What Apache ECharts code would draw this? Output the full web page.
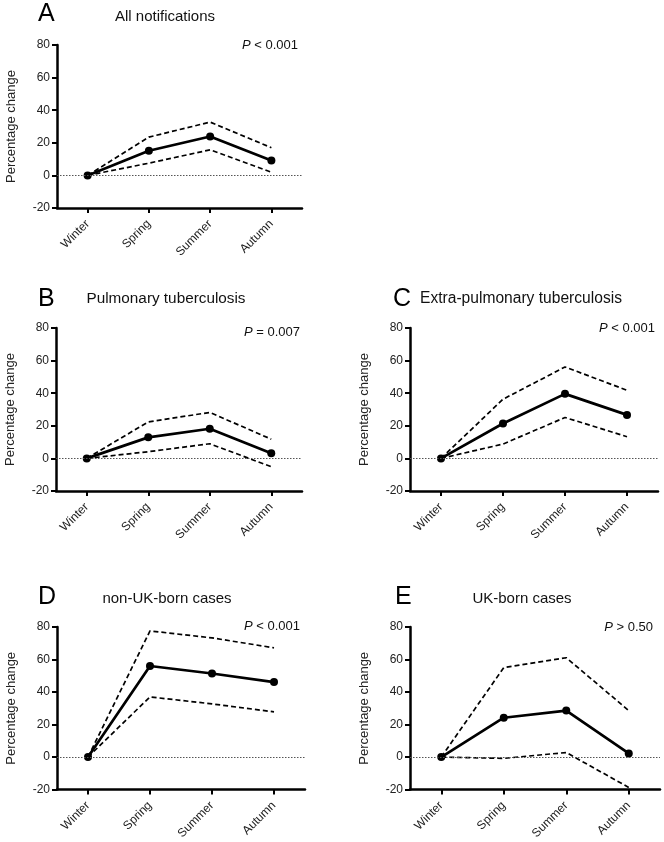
<!DOCTYPE html>
<html>
<head>
<meta charset="utf-8">
<script src="https://cdn.jsdelivr.net/npm/echarts@6/dist/echarts.min.js"></script>
<style>
html,body{margin:0;padding:0;background:#fff;}
#chart{width:664px;height:842px;}
</style>
</head>
<body>
<div id="chart"></div>
<script>
const categories = ['Winter', 'Spring', 'Summer', 'Autumn'];
const yMin = -20, yMax = 80, yStep = 20;

const allMean  = [0, 15.1, 23.9, 9.2];
const allUpper = [0, 23.5, 32.7, 17.0];
const allLower = [0, 7.5, 15.7, 2.0];

const pulMean  = [0, 12.9, 18.2, 3.1];
const pulUpper = [0, 22.4, 28.2, 11.8];
const pulLower = [0, 4.1, 9.0, -5.1];

const extraMean  = [0, 21.4, 39.6, 26.7];
const extraUpper = [0, 36.3, 56.1, 41.8];
const extraLower = [0, 8.8, 25.1, 13.3];

const nonUkMean  = [0, 56.0, 51.4, 46.1];
const nonUkUpper = [0, 77.6, 73.3, 67.2];
const nonUkLower = [0, 37.0, 32.7, 27.8];

const ukMean  = [0, 24.2, 28.6, 2.2];
const ukUpper = [0, 55.0, 61.1, 28.6];
const ukLower = [0, -0.8, 2.8, -18.7];

const panelLetters = ['A', 'B', 'C', 'D', 'E'];
const panelTitles = ['All notifications', 'Pulmonary tuberculosis', 'Extra-pulmonary tuberculosis', 'non-UK-born cases', 'UK-born cases'];
const pValues = ['< 0.001', '= 0.007', '< 0.001', '< 0.001', '> 0.50'];
const yAxisName = 'Percentage change';

const panels = [
  {mean: allMean, upper: allUpper, lower: allLower},
  {mean: pulMean, upper: pulUpper, lower: pulLower},
  {mean: extraMean, upper: extraUpper, lower: extraLower},
  {mean: nonUkMean, upper: nonUkUpper, lower: nonUkLower},
  {mean: ukMean, upper: ukUpper, lower: ukLower}
];

// layout (pixels)
const grids = [
  {left: 57, top: 45, width: 245, height: 163},
  {left: 56, top: 328, width: 246, height: 163},
  {left: 410, top: 328, width: 248, height: 163},
  {left: 57, top: 627, width: 248, height: 163},
  {left: 410, top: 627, width: 250, height: 163}
];
const letterPos = [[38, 14], [38, 299], [393, 299], [38, 597], [395, 597]];
const titlePos = [[165, 17, 'center'], [166, 299, 'center'], [420, 299, 'left'], [167, 599, 'center'], [522, 599, 'center']];
const titleSize = [15, 15.3, 15.6, 15, 15];
const pPos = [[298, 45], [300, 332], [655, 328], [300, 626], [653, 627]];

const FONT = '"Liberation Sans", Arial, Helvetica, sans-serif';

const chart = echarts.init(document.getElementById('chart'), null, {renderer: 'canvas'});

const xAxes = [], yAxes = [], series = [], graphics = [];
panels.forEach((p, i) => {
  xAxes.push({
    type: 'category', gridIndex: i, data: categories, boundaryGap: true,
    axisLine: {show: true, onZero: false, lineStyle: {color: '#000', width: 2.5}},
    axisTick: {show: true, alignWithLabel: true, length: 5, lineStyle: {color: '#000', width: 2}},
    axisLabel: {rotate: 45, margin: 14, fontSize: 12, color: '#222', fontFamily: FONT, interval: 0},
    splitLine: {show: false}
  });
  yAxes.push({
    type: 'value', gridIndex: i, min: yMin, max: yMax, interval: yStep,
    name: yAxisName, nameLocation: 'middle', nameGap: 39, nameRotate: 90,
    nameTextStyle: {fontSize: 13, color: '#222', fontFamily: FONT},
    axisLine: {show: true, onZero: false, lineStyle: {color: '#000', width: 2.5}},
    axisTick: {show: true, length: 5, lineStyle: {color: '#000', width: 2}},
    axisLabel: {margin: 7, fontSize: 12, color: '#222', fontFamily: FONT},
    splitLine: {show: false}
  });
  series.push({
    type: 'line', xAxisIndex: i, yAxisIndex: i, data: p.upper,
    showSymbol: false, symbol: 'none', lineStyle: {color: '#000', width: 1.7, type: [5, 3]},
    z: 2, silent: true, animation: false
  });
  series.push({
    type: 'line', xAxisIndex: i, yAxisIndex: i, data: p.lower,
    showSymbol: false, symbol: 'none', lineStyle: {color: '#000', width: 1.7, type: [5, 3]},
    z: 2, silent: true, animation: false
  });
  series.push({
    type: 'line', xAxisIndex: i, yAxisIndex: i, data: p.mean,
    symbol: 'circle', symbolSize: 8, itemStyle: {color: '#000'},
    lineStyle: {color: '#000', width: 2.7}, z: 3, silent: true, animation: false,
    markLine: {
      silent: true, symbol: ['none', 'none'], label: {show: false},
      lineStyle: {color: '#555', width: 1, type: [1.5, 1.5]},
      data: [{yAxis: 0}], animation: false
    }
  });
  graphics.push({
    type: 'text', x: letterPos[i][0], y: letterPos[i][1],
    style: {text: panelLetters[i], font: '25px ' + FONT, fill: '#000', textAlign: 'left', textVerticalAlign: 'middle'}
  });
  graphics.push({
    type: 'text', x: titlePos[i][0], y: titlePos[i][1],
    style: {text: panelTitles[i], font: titleSize[i] + 'px ' + FONT, fill: '#111', textAlign: titlePos[i][2], textVerticalAlign: 'middle'}
  });
  graphics.push({
    type: 'text', x: pPos[i][0], y: pPos[i][1],
    style: {
      text: '{i|P} ' + pValues[i],
      fontSize: 13, fontFamily: FONT, fill: '#111',
      textAlign: 'right', textVerticalAlign: 'middle',
      rich: {i: {fontStyle: 'italic', fontSize: 13, fontFamily: FONT, fill: '#111'}}
    }
  });
});

chart.setOption({
  animation: false,
  backgroundColor: '#fff',
  grid: grids.map(g => Object.assign({containLabel: false}, g)),
  xAxis: xAxes,
  yAxis: yAxes,
  series: series,
  graphic: graphics
});
</script>
</body>
</html>
